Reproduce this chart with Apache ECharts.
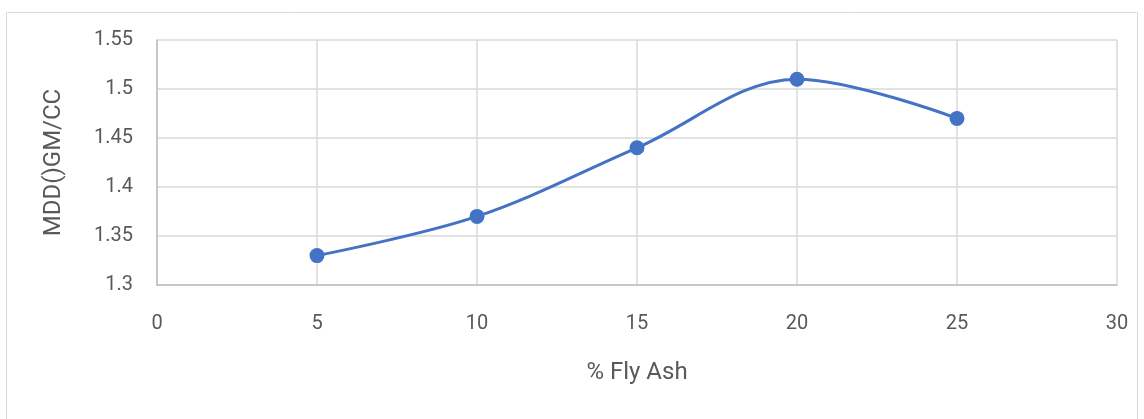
<!DOCTYPE html>
<html>
<head>
<meta charset="utf-8">
<script src="https://cdn.jsdelivr.net/npm/echarts@6/dist/echarts.min.js"></script>
<style>
  html, body { margin: 0; padding: 0; background: #fff; }
  #chart { width: 1144px; height: 419px; }
</style>
</head>
<body>
<div id="chart"></div>
<script>
// % fly ash content and maximum dry density (gm/cc)
const flyAsh = [5, 10, 15, 20, 25];
const mdd = [1.33, 1.37, 1.44, 1.51, 1.47];
const xTicks = { min: 0, max: 30, step: 5 };
const yTicks = { min: 1.3, max: 1.55, step: 0.05 };

const chart = echarts.init(document.getElementById('chart'));
const labelFont = 'Roboto, "Liberation Sans", sans-serif';

chart.setOption({
  animation: false,
  graphic: [{
    type: 'rect',
    shape: { x: 6.5, y: 12.5, width: 1131, height: 420 },
    style: { fill: 'none', stroke: '#d9d9d9', lineWidth: 1 },
    silent: true
  }],
  grid: { left: 157, right: 27, top: 40, bottom: 134 },
  xAxis: {
    type: 'value',
    min: xTicks.min, max: xTicks.max, interval: xTicks.step,
    name: '% Fly Ash',
    nameLocation: 'middle',
    nameGap: 76,
    nameTextStyle: { color: '#595959', fontSize: 24, fontFamily: labelFont },
    axisLine: { show: true, lineStyle: { color: '#bfbfbf', width: 1.5 } },
    axisTick: { show: false },
    axisLabel: { color: '#595959', fontSize: 20, fontFamily: labelFont, margin: 29 },
    splitLine: { show: true, lineStyle: { color: '#d9d9d9', width: 1.5 } }
  },
  yAxis: {
    type: 'value',
    min: yTicks.min, max: yTicks.max, interval: yTicks.step,
    name: 'MDD()GM/CC',
    nameLocation: 'middle',
    nameGap: 91,
    nameTextStyle: { color: '#595959', fontSize: 24, fontFamily: labelFont },
    axisLine: { show: true, lineStyle: { color: '#bfbfbf', width: 1.5 } },
    axisTick: { show: false },
    axisLabel: {
      color: '#595959', fontSize: 20, fontFamily: labelFont, margin: 24,
      formatter: v => String(parseFloat(v.toFixed(2)))
    },
    splitLine: { show: true, lineStyle: { color: '#d9d9d9', width: 1.5 } }
  },
  series: [{
    type: 'line',
    data: flyAsh.map((x, i) => [x, mdd[i]]),
    smooth: 0.35,
    symbol: 'circle',
    symbolSize: 15,
    lineStyle: { color: '#4472c4', width: 3 },
    itemStyle: { color: '#4472c4' }
  }]
});
</script>
</body>
</html>
